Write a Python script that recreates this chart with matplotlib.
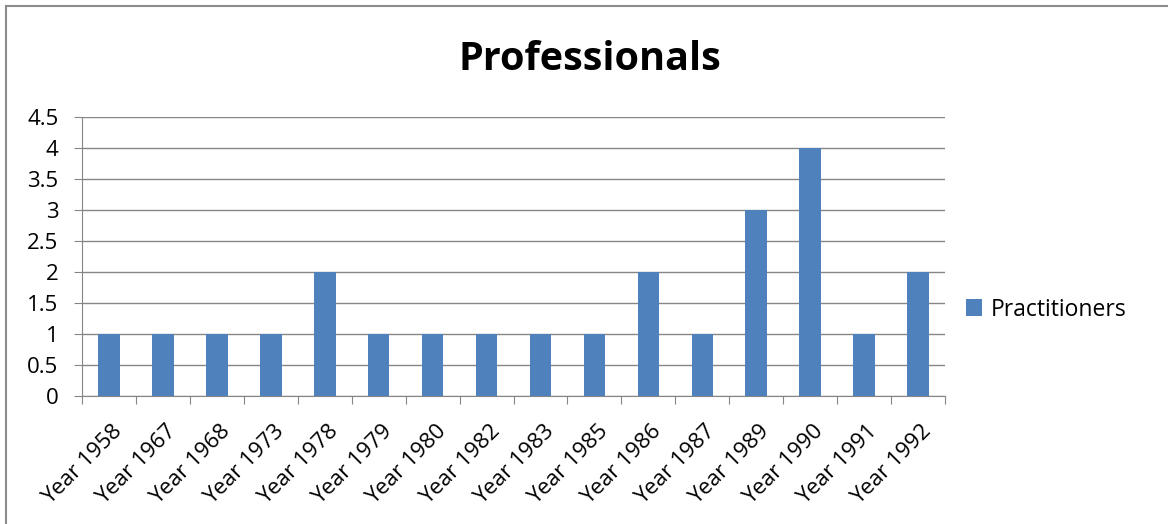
import matplotlib
matplotlib.use("Agg")
import matplotlib.pyplot as plt
import matplotlib.transforms as mtransforms
from matplotlib.lines import Line2D

years = ["Year 1958", "Year 1967", "Year 1968", "Year 1973", "Year 1978", "Year 1979",
         "Year 1980", "Year 1982", "Year 1983", "Year 1985", "Year 1986", "Year 1987",
         "Year 1989", "Year 1990", "Year 1991", "Year 1992"]
practitioners = [1, 1, 1, 1, 2, 1, 1, 1, 1, 1, 2, 1, 3, 4, 1, 2]

plt.rcParams["font.family"] = ["Open Sans", "DejaVu Sans"]

fig = plt.figure(figsize=(11.68, 5.24), dpi=100)
# only the top and left edges of the outer frame are visible
fig.lines.append(Line2D([0.005, 1.0], [0.9895, 0.9895], transform=fig.transFigure,
                        color="#8c8c8c", linewidth=1.5))
fig.lines.append(Line2D([0.0055, 0.0055], [0.0, 0.9895], transform=fig.transFigure,
                        color="#8c8c8c", linewidth=1.5))

ax = fig.add_axes([0.0702, 0.2443, 0.7389, 0.5324])

x = range(len(years))
ax.bar(x, practitioners, width=0.4, color="#4F81BD", label="Practitioners", zorder=3)

ax.set_xlim(-0.5, len(years) - 0.5)
ax.set_ylim(0, 4.5)
ax.set_yticks([0, 0.5, 1, 1.5, 2, 2.5, 3, 3.5, 4, 4.5])
ax.set_yticklabels(["0", "0.5", "1", "1.5", "2", "2.5", "3", "3.5", "4", "4.5"])
ax.yaxis.grid(True, color="#868686", linewidth=1, zorder=0)

ax.set_xticks([i - 0.5 for i in range(len(years) + 1)])
ax.set_xticklabels([])
ax.set_xticks(list(x), minor=True)
ax.set_xticklabels(years, minor=True, rotation=45, ha="right", rotation_mode="anchor")
ax.tick_params(axis="x", which="minor", length=0, pad=18, labelsize=16)
ax.tick_params(axis="x", which="major", length=6, color="#868686")
ax.tick_params(axis="y", length=6, color="#868686", labelsize=16, pad=11)

shift = mtransforms.ScaledTranslation(2 / 72, 0, fig.dpi_scale_trans)
for lbl in ax.get_xticklabels(minor=True):
    lbl.set_transform(lbl.get_transform() + shift)

for side in ["top", "right"]:
    ax.spines[side].set_visible(False)
for side in ["left", "bottom"]:
    ax.spines[side].set_color("#868686")

fig.text(0.505, 0.886, "Professionals", ha="center", va="center",
         fontsize=28.5, fontweight="bold")

ax.legend(loc="center left", bbox_to_anchor=(1.0, 0.31), frameon=False,
          fontsize=16.5, handlelength=0.7, handleheight=0.7, handletextpad=0.4)

fig.savefig("out.png", dpi=100)
